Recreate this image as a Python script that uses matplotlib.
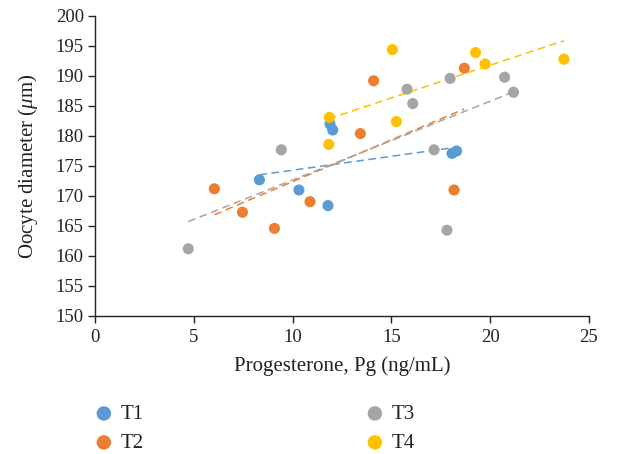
import numpy as np
import matplotlib
matplotlib.use("Agg")
import matplotlib.pyplot as plt

plt.rcParams['font.family'] = ['Liberation Serif', 'DejaVu Serif']
plt.rcParams['mathtext.fontset'] = 'custom'
plt.rcParams['mathtext.it'] = 'Liberation Serif:italic'
plt.rcParams['mathtext.rm'] = 'Liberation Serif'

series_names = ["T1", "T2", "T3", "T4"]
colors = ["#5B9BD5", "#ED7D31", "#A5A5A5", "#FFC000"]

t1_x = [8.32, 10.32, 11.79, 11.89, 12.03, 18.07, 18.30]
t1_y = [172.7, 171.0, 168.4, 182.0, 181.0, 177.1, 177.5]

t2_x = [6.04, 7.46, 9.08, 10.88, 13.43, 14.10, 18.17, 18.69]
t2_y = [171.2, 167.3, 164.6, 169.05, 180.4, 189.2, 171.0, 191.3]

t3_x = [4.72, 9.43, 15.79, 16.08, 17.16, 17.81, 17.97, 20.73, 21.18]
t3_y = [161.2, 177.7, 187.8, 185.4, 177.7, 164.3, 189.6, 189.8, 187.3]

t4_x = [11.86, 11.83, 15.05, 15.25, 19.26, 19.74, 23.73]
t4_y = [183.1, 178.6, 194.4, 182.4, 193.9, 192.0, 192.8]

xs = [t1_x, t2_x, t3_x, t4_x]
ys = [t1_y, t2_y, t3_y, t4_y]

fig = plt.figure(figsize=(6.30, 4.54), dpi=100)
ax = fig.add_axes([95/630, 1 - 316/454, (589 - 95)/630, (316 - 16)/454])

for name, c, x, y in zip(series_names, colors, xs, ys):
    ax.scatter(x, y, s=64, color=c, edgecolors='none', label=name, zorder=3)

for c, x, y in zip(colors, xs, ys):
    x = np.asarray(x); y = np.asarray(y)
    m, b = np.polyfit(x, y, 1)
    xx = np.array([x.min(), x.max()])
    ax.plot(xx, m * xx + b, linestyle=(0, (5, 3)), color=c, linewidth=1.1, zorder=2)

ax.set_xlim(0, 25)
ax.set_ylim(150, 200)
ax.set_xticks(np.arange(0, 26, 5))
ax.set_yticks(np.arange(150, 201, 5))
ax.tick_params(axis='both', labelsize=13.5, direction='out', length=5, width=1,
               color='#222222', labelcolor='#222222')
ax.tick_params(axis='x', pad=4)
ax.tick_params(axis='y', pad=3)
for s in ['top', 'right']:
    ax.spines[s].set_visible(False)
for s in ['left', 'bottom']:
    ax.spines[s].set_color('#222222')
    ax.spines[s].set_linewidth(1)

ax.set_xlabel("Progesterone, Pg (ng/mL)", fontsize=15, color='#222222', labelpad=8)
ax.set_ylabel("Oocyte diameter ($\\mu$m)", fontsize=15, color='#222222', labelpad=11)

leg = fig.legend(loc='upper left', bbox_to_anchor=(83/630, 1 - 396/454), ncol=2,
                 frameon=False, fontsize=15, columnspacing=10.5, handletextpad=0.2,
                 labelspacing=0.45, borderaxespad=0, scatterpoints=1, markerscale=1.3,
                 handlelength=1.2)
for t in leg.get_texts():
    t.set_color('#222222')

fig.savefig("out.png", dpi=100)
